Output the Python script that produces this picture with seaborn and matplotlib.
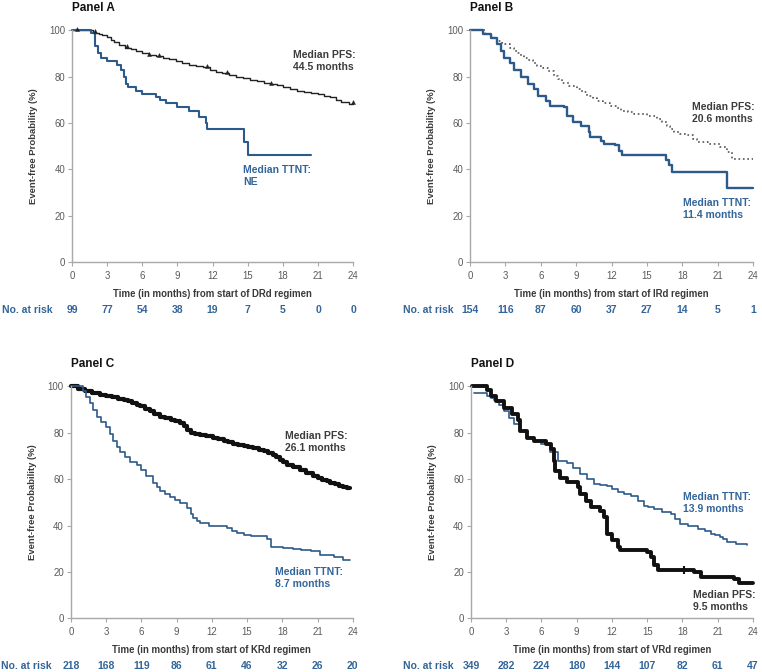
import numpy as np
import matplotlib
matplotlib.use("Agg")
import matplotlib.pyplot as plt
import matplotlib.transforms as mtransforms
import seaborn as sns

# -------------------------------
# Data
# -------------------------------

months = [0, 3, 6, 9, 12, 15, 18, 21, 24]
pct_ticks = [0, 20, 40, 60, 80, 100]

# Panel A (DRd)
a_pfs_t = [0, 1.8, 2.3, 2.6, 3.0, 3.3, 3.6, 4.0, 4.5, 5.0, 5.5, 6.0, 6.6, 7.2, 7.8,
           8.3, 8.9, 9.4, 10.0, 10.6, 11.2, 11.8, 12.3, 12.8, 13.4, 14.0, 14.6, 15.2,
           15.8, 16.4, 16.9, 17.5, 18.0, 18.6, 19.2, 19.8, 20.4, 21.0, 21.5, 22.0,
           22.5, 23.0, 23.6, 24.0]
a_pfs_s = [100, 99, 98.5, 97.8, 97, 96, 95, 93.8, 92.5, 91.8, 91, 90.3, 89.3, 88.8,
           88, 87.4, 86.6, 85.8, 85, 84.5, 84, 83, 82.2, 81.5, 80.8, 80, 79.2, 78.5,
           78, 77.3, 76.8, 76.2, 75.5, 74.8, 74, 73.4, 73, 72.3, 71.6, 71, 70, 69.2,
           68.4, 68.4]
a_pfs_cens = [0.4, 2.0, 4.7, 6.6, 7.4, 11.5, 13.2, 17.0, 24.0]
a_ttnt_t = [0, 1.6, 2.0, 2.2, 2.5, 3.0, 3.8, 4.2, 4.4, 4.6, 4.8, 5.5, 6.0, 7.2, 7.5,
            8.0, 9.0, 10.0, 10.8, 11.4, 11.5, 14.7, 15.0, 20.4]
a_ttnt_s = [100, 99, 93, 90, 88, 86.6, 85, 83, 80, 77, 75.5, 74, 72.5, 71, 70, 68.5,
            67, 65, 62.5, 60, 57.5, 52, 46, 46]
a_risk = [99, 77, 54, 38, 19, 7, 5, 0, 0]

# Panel B (IRd)
b_pfs_t = [0, 1.3, 1.75, 2.0, 2.3, 2.7, 3.0, 3.4, 3.7, 4.0, 4.3, 4.6, 4.9, 5.3, 5.7,
           6.2, 6.6, 7.1, 7.5, 7.8, 8.4, 9.1, 9.5, 9.9, 10.4, 10.8, 11.3, 11.9, 12.4,
           12.8, 13.4, 13.9, 15.0, 15.9, 16.3, 16.7, 17.0, 17.3, 17.8, 18.4, 18.9,
           19.3, 20.2, 21.2, 21.8, 22.2, 24.0]
b_pfs_s = [100, 98.5, 97.4, 96.3, 95.3, 94.6, 93.9, 92.5, 91, 90, 88.9, 88, 87, 85.8,
           84.6, 83.5, 82.4, 80.3, 78.8, 77.4, 76, 74.6, 73.2, 71.7, 70.6, 69.6, 68.5,
           67.4, 66.3, 65.3, 64.6, 63.9, 63.1, 61.7, 60.3, 58.9, 57.5, 56, 55.3, 54.6,
           53.2, 51.7, 51, 49.6, 47.4, 44.6, 44.6]
b_ttnt_t = [0, 1.1, 1.75, 2.3, 2.6, 2.9, 3.4, 3.7, 4.3, 4.9, 5.4, 5.8, 6.4, 6.8, 8.0,
            8.2, 8.7, 9.4, 10.1, 10.2, 11.1, 11.4, 12.3, 12.6, 12.9, 16.6, 16.9, 17.1,
            21.8, 24.0]
b_ttnt_s = [100, 98.5, 96.7, 93.9, 91, 88, 86, 83, 80, 76.7, 74.6, 71.7, 69.6, 67.4,
            66.7, 63, 60.3, 58.9, 56, 53.9, 52.4, 51, 50.3, 48, 46, 43.9, 41.7, 38.9,
            32, 32]
b_risk = [154, 116, 87, 60, 37, 27, 14, 5, 1]

# Panel C (KRd)
c_pfs_t = [0, 0.6, 1.2, 1.8, 2.5, 3.0, 3.5, 4.0, 4.5, 4.9, 5.2, 5.6, 5.9, 6.3, 6.7,
           7.1, 7.6, 8.0, 8.5, 8.9, 9.3, 9.6, 9.9, 10.2, 10.6, 11.0, 11.5, 12.1, 12.5,
           13.0, 13.4, 13.8, 14.2, 14.7, 15.1, 15.5, 16.0, 16.4, 16.8, 17.2, 17.5,
           17.8, 18.1, 18.4, 18.9, 19.5, 20.0, 20.6, 21.0, 21.4, 21.8, 22.1, 22.5,
           22.8, 23.2, 23.5, 23.8]
c_pfs_s = [100, 99, 98, 97.2, 96.4, 95.8, 95.3, 94.7, 94.2, 93.5, 92.8, 92.1, 91.4,
           90.4, 89.2, 88.1, 87, 86.3, 85.6, 84.9, 84.2, 82.8, 81.2, 80, 79.5, 79,
           78.4, 77.7, 77.1, 76.5, 75.9, 75.3, 74.8, 74.3, 73.8, 73.4, 72.7, 72, 71.2,
           70.5, 69.4, 68.3, 67.2, 66.2, 65.1, 64, 62.6, 61.2, 60.4, 59.7, 59, 58.3,
           57.7, 57.2, 56.6, 56.1, 56.1]
c_ttnt_t = [0, 1.0, 1.3, 1.6, 1.9, 2.2, 2.6, 3.0, 3.3, 3.6, 3.9, 4.2, 4.6, 5.0, 5.6,
            6.0, 6.4, 7.0, 7.3, 7.6, 8.0, 8.4, 8.9, 9.3, 9.9, 10.2, 10.4, 10.7, 11.0,
            11.8, 13.3, 13.7, 14.1, 14.7, 15.3, 16.7, 17.0, 18.1, 18.9, 19.6, 20.4,
            21.2, 22.4, 23.2, 23.8]
c_ttnt_s = [100, 98, 95.5, 92.8, 90, 87, 84.8, 82.7, 79.5, 76.3, 74, 71.9, 69.7,
            67.6, 66.2, 63.8, 61.2, 58.3, 56.5, 54.7, 53.6, 52.5, 51, 49.6, 47.5, 45,
            43.2, 42, 41, 39.6, 38.8, 37.7, 36.7, 36, 35.3, 34.1, 30.9, 30.3, 29.8,
            29.3, 28.8, 27.3, 26.6, 25.2, 25.2]
c_risk = [218, 168, 119, 86, 61, 46, 32, 26, 20]

# Panel D (VRd)
d_pfs_t = [0.1, 1.4, 1.7, 2.1, 2.8, 3.5, 4.0, 4.2, 4.8, 5.4, 6.4, 6.8, 7.1, 7.2, 7.6,
           8.2, 9.1, 9.3, 9.8, 10.2, 11.0, 11.3, 11.6, 12.0, 12.5, 12.7, 15.0, 15.3,
           15.6, 15.9, 19.0, 19.6, 22.4, 22.8, 24.0]
d_pfs_s = [100, 98.6, 96, 93.6, 90.7, 87.9, 85.7, 80.7, 77.9, 76.4, 75, 72.9, 67.9,
           63.6, 60.7, 58.6, 56.4, 53.6, 50.7, 47.9, 46.4, 43.6, 36.4, 33.6, 30.7,
           29.3, 28.6, 26.4, 22.9, 20.7, 20, 17.9, 17.1, 15, 15]
d_pfs_cens = [18.1]
d_ttnt_t = [0.3, 1.4, 1.7, 2.0, 2.4, 2.8, 3.2, 3.7, 4.2, 4.8, 5.4, 6.0, 6.7, 7.4, 8.2,
            8.7, 9.3, 9.9, 10.5, 11.0, 11.6, 12.0, 12.5, 13.0, 13.6, 14.2, 14.7, 15.1,
            15.6, 16.3, 17.0, 17.4, 17.8, 18.5, 19.3, 19.9, 20.4, 20.8, 21.2, 21.5,
            21.8, 22.6, 23.5]
d_ttnt_s = [97, 96, 95.2, 94.3, 91.8, 89.3, 86.5, 83.6, 80.8, 77.9, 76.4, 75, 71.5,
            67.9, 67.1, 64.6, 62.1, 60, 57.9, 57.5, 57.1, 55.7, 54.3, 53.6, 52.9, 50.7,
            48.6, 47.9, 47.1, 46, 45, 42.8, 40.7, 39.6, 38.6, 37.5, 36.4, 35.7, 35, 34,
            32.9, 32.2, 31.4]
d_risk = [349, 282, 224, 180, 144, 107, 82, 61, 47]

# -------------------------------
# Style
# -------------------------------

sns.set_theme(style="ticks")
plt.rcParams['font.family'] = ['Liberation Sans', 'DejaVu Sans']

BLUE = "#2c5a8a"
BLUE_TXT = "#33659a"
DARK = "#222222"
GRAY_TXT = "#3c3c3c"
AXIS = "#a8a8a8"

fig = plt.figure(figsize=(7.62, 6.72), dpi=100)

boxes = {
    "A": [0.0945, 0.610, 0.369, 0.345],
    "B": [0.617, 0.610, 0.371, 0.345],
    "C": [0.093, 0.080, 0.370, 0.345],
    "D": [0.618, 0.080, 0.370, 0.345],
}


def km(ax, t, s, **kw):
    sns.lineplot(x=t, y=s, drawstyle="steps-post", estimator=None, sort=False,
                 ax=ax, **kw)


def step_value(t, s, x):
    i = np.searchsorted(t, x, side="right") - 1
    return np.asarray(s)[np.clip(i, 0, len(s) - 1)]


def setup(ax, name, regimen, risk, risk_label_x):
    ax.set_xlim(0, 24)
    ax.set_ylim(0, 100)
    ax.set_xticks(months)
    ax.set_yticks(pct_ticks)
    for side in ["top", "right"]:
        ax.spines[side].set_visible(False)
    for side in ["left", "bottom"]:
        ax.spines[side].set_color(AXIS)
        ax.spines[side].set_linewidth(1.0)
    ax.tick_params(axis="both", colors=AXIS, labelcolor="#5a5a5a",
                   labelsize=6.9, length=3, width=0.8)
    ax.tick_params(axis="x", pad=3.5)
    ax.tick_params(axis="y", pad=2)
    ax.set_xlabel(f"Time (in months) from start of {regimen} regimen",
                  fontsize=6.9, fontweight="bold", color="#3a3a3a", labelpad=5.5)
    ax.set_ylabel("Event-free Probability (%)", fontsize=6.8,
                  fontweight="bold", color="#3a3a3a", labelpad=8)
    ax.text(0.0, 1.097, name, transform=ax.transAxes, fontsize=8.5,
            fontweight="bold", color="#111111", ha="left", va="center")
    trans = mtransforms.blended_transform_factory(ax.transData, ax.transAxes)
    for m, n in zip(months, risk):
        ax.text(m, -0.207, str(n), transform=trans, ha="center", va="center",
                fontsize=7.5, fontweight="bold", color=BLUE_TXT)
    fig.text(risk_label_x, ax.get_position().y0 - 0.207 * ax.get_position().height,
             "No. at risk", ha="left", va="center", fontsize=7.5,
             fontweight="bold", color=BLUE_TXT)
    for line in ax.lines:
        line.set_clip_on(False)


def note(ax, x, y, label, value, color):
    ax.text(x, y, f"{label}\n{value}", ha="left", va="center", fontsize=7.5,
            fontweight="bold", color=color, linespacing=1.25, clip_on=False)


# -------------------------------
# Panel A
# -------------------------------

ax = fig.add_axes(boxes["A"])
km(ax, a_pfs_t, a_pfs_s, color=DARK, linewidth=1.0)
km(ax, a_ttnt_t, a_ttnt_s, color=BLUE, linewidth=1.5)
sns.scatterplot(x=a_pfs_cens, y=step_value(a_pfs_t, a_pfs_s, a_pfs_cens) + 0.6,
                marker="^", s=9, color=DARK, edgecolor=DARK, ax=ax, zorder=3,
                clip_on=False)
note(ax, 18.9, 86.7, "Median PFS:", "44.5 months", GRAY_TXT)
note(ax, 14.6, 37.2, "Median TTNT:", "NE", BLUE_TXT)
setup(ax, "Panel A", "DRd", a_risk, 0.003)

# -------------------------------
# Panel B
# -------------------------------

ax = fig.add_axes(boxes["B"])
km(ax, b_pfs_t, b_pfs_s, color="#555555", linewidth=1.2, linestyle=":")
km(ax, b_ttnt_t, b_ttnt_s, color=BLUE, linewidth=1.7)
note(ax, 18.8, 64.4, "Median PFS:", "20.6 months", GRAY_TXT)
note(ax, 18.05, 23.0, "Median TTNT:", "11.4 months", BLUE_TXT)
setup(ax, "Panel B", "IRd", b_risk, 0.529)

# -------------------------------
# Panel C
# -------------------------------

ax = fig.add_axes(boxes["C"])
km(ax, c_pfs_t, c_pfs_s, color="#111111", linewidth=3.0)
km(ax, c_ttnt_t, c_ttnt_s, color=BLUE, linewidth=1.2)
note(ax, 18.2, 76.0, "Median PFS:", "26.1 months", GRAY_TXT)
note(ax, 17.4, 17.2, "Median TTNT:", "8.7 months", BLUE_TXT)
setup(ax, "Panel C", "KRd", c_risk, 0.001)

# -------------------------------
# Panel D
# -------------------------------

ax = fig.add_axes(boxes["D"])
km(ax, d_ttnt_t, d_ttnt_s, color=BLUE, linewidth=1.2)
km(ax, d_pfs_t, d_pfs_s, color="#111111", linewidth=2.8)
sns.scatterplot(x=d_pfs_cens, y=step_value(d_pfs_t, d_pfs_s, d_pfs_cens),
                marker="|", s=40, color="#111111", linewidth=1.5, ax=ax, zorder=3)
note(ax, 18.05, 49.6, "Median TTNT:", "13.9 months", BLUE_TXT)
note(ax, 18.9, 7.5, "Median PFS:", "9.5 months", GRAY_TXT)
setup(ax, "Panel D", "VRd", d_risk, 0.529)

fig.savefig("out.png", dpi=100)
